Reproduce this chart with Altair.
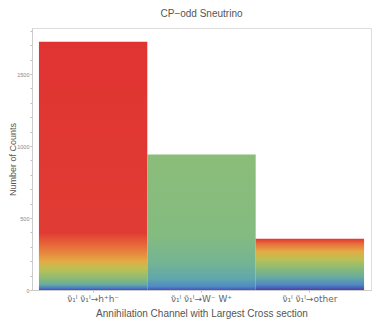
import altair as alt
import pandas as pd

categories = ["ν̃₁ᴵ ν̃₁ᴵ→h⁺h⁻", "ν̃₁ᴵ ν̃₁ᴵ→W⁻ W⁺", "ν̃₁ᴵ ν̃₁ᴵ→other"]
counts = [1724, 942, 356]
y_ticks = list(range(0, 1900, 100))

df = pd.DataFrame({"channel": categories, "count": counts})

grad_stops = [
    [(0.0, "#e03432"), (0.77, "#e03c34"), (0.83, "#e8723a"), (0.885, "#e2ac44"),
     (0.915, "#bcc056"), (0.95, "#90bc70"), (0.978, "#68aca0"), (0.993, "#4a78c8"), (1.0, "#4a4ab0")],
    [(0.0, "#8bbd7a"), (0.6, "#84bb80"), (0.8, "#74b494"), (0.92, "#60a6ac"),
     (0.975, "#5088c4"), (1.0, "#4452c0")],
    [(0.0, "#e03432"), (0.1, "#e8703a"), (0.25, "#e2ac44"), (0.4, "#bcc056"),
     (0.55, "#90bc70"), (0.75, "#68aca0"), (0.9, "#5088c4"), (1.0, "#4a40a8")],
]

x_enc = alt.X(
    "channel:N", sort=categories,
    scale=alt.Scale(paddingInner=0, paddingOuter=0.064),
    axis=alt.Axis(title="Annihilation Channel with Largest Cross section", labelAngle=0,
                  labelFontSize=9, labelColor="#666", titleFontSize=10, titleColor="#555",
                  titleFontWeight="normal", tickSize=2, tickColor="#bbb", domainColor="#ccc",
                  labelPadding=2, titlePadding=5, titleFont="Liberation Sans",
                  labelFont="DejaVu Sans"),
)
y_enc = alt.Y(
    "count:Q", scale=alt.Scale(domain=[0, 1820], nice=False),
    axis=alt.Axis(title="Number of Counts", values=y_ticks,
                  labelExpr="datum.value % 500 == 0 ? datum.label : ''",
                  labelFontSize=5.5, labelColor="#888", titleFontSize=9, titleColor="#555",
                  titleFontWeight="normal", tickSize=2, tickColor="#bbb", domainColor="#ccc",
                  labelPadding=1, titleFont="Liberation Sans", labelFont="Liberation Sans",
                  titleX=-20, titleY=131, titleBaseline="middle", titleAlign="center",
                  grid=False, format="d"),
)

layers = []
for cat, stops in zip(categories, grad_stops):
    g = alt.Gradient(
        gradient="linear", x1=0, x2=0, y1=0, y2=1,
        stops=[alt.GradientStop(offset=o, color=c) for o, c in stops],
    )
    layers.append(
        alt.Chart(df).transform_filter(alt.datum.channel == cat)
        .mark_bar(fill=g, opacity=1)
        .encode(x=x_enc, y=y_enc)
    )

chart = alt.layer(*layers).properties(
    width=339, height=262, autosize="none",
    padding={"left": 24, "top": 20, "right": 3, "bottom": 29},
    title=alt.TitleParams("CP−odd Sneutrino", fontSize=10, color="#555", fontWeight="normal",
                          font="Liberation Sans", offset=9),
).configure_view(stroke="#ccc", strokeWidth=1).configure(background="white")

chart.save("out.html", embed_options={"renderer": "svg", "actions": False})
